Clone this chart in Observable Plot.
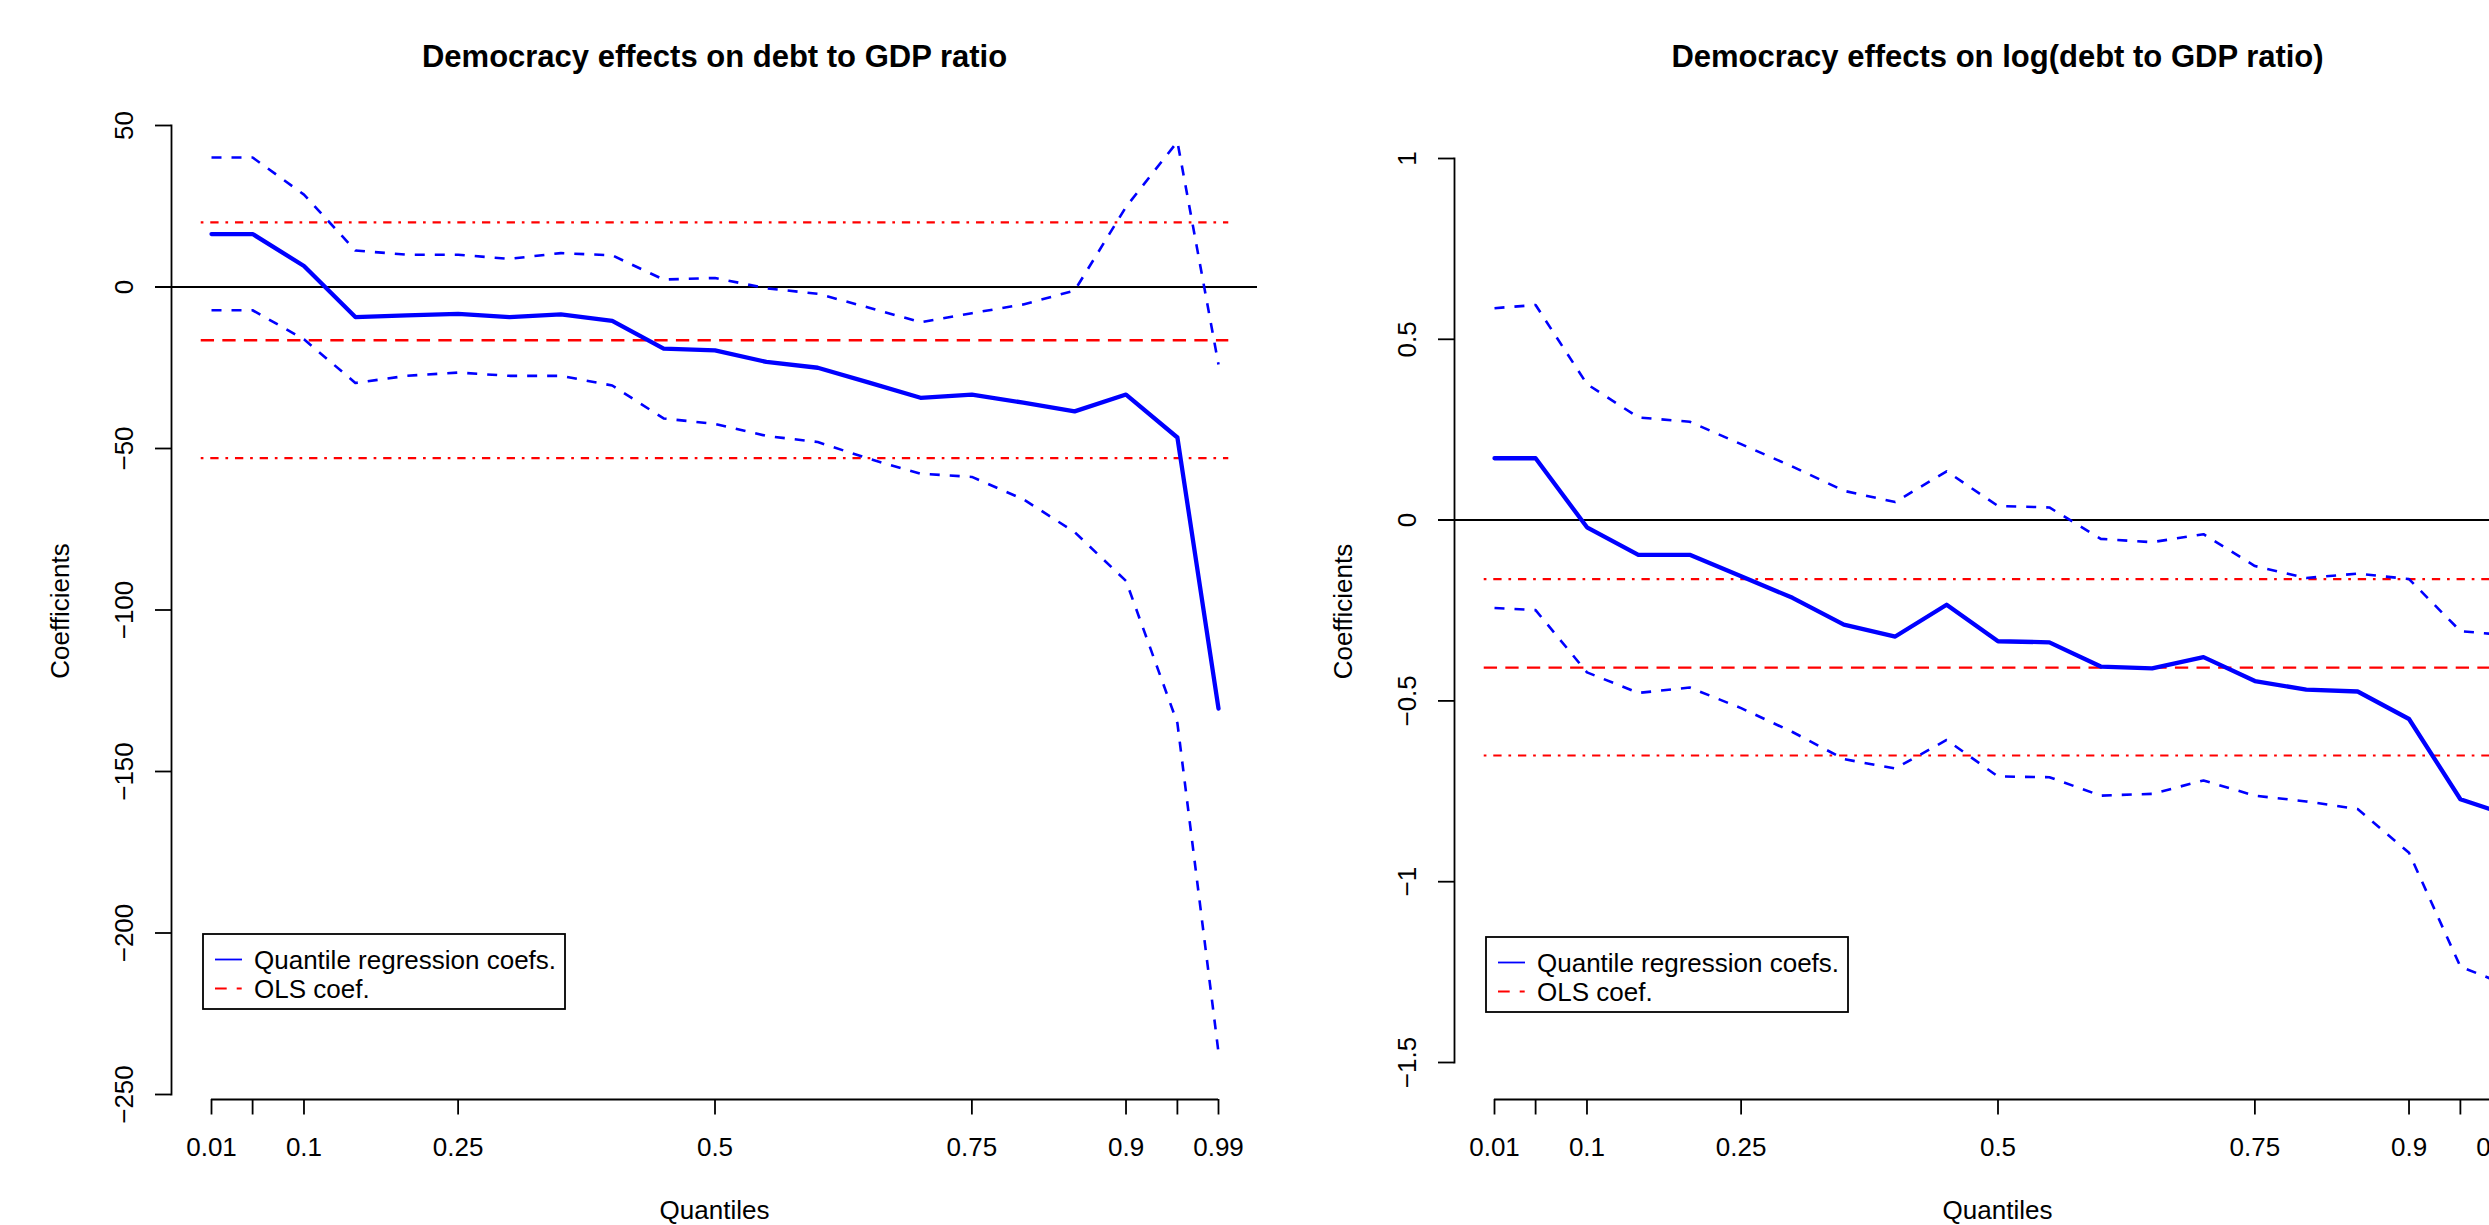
<!DOCTYPE html>
<html>
<head>
<meta charset="utf-8">
<script src="https://cdn.jsdelivr.net/npm/d3@7"></script>
<script src="https://cdn.jsdelivr.net/npm/@observablehq/plot@0.6"></script>
<style>
  html, body { margin: 0; padding: 0; background: #fff; }
  #wrap { position: relative; width: 2489px; height: 1225px; overflow: hidden; background: #fff; }
  .panel { position: absolute; top: 0; width: 1282.5px; height: 1225px; }
  .panel svg { max-width: none !important; display: block; }
</style>
</head>
<body>
<div id="wrap"></div>
<script>
// ---------- data ----------
const quantiles = [0.01, 0.05, 0.1, 0.15, 0.2, 0.25, 0.3, 0.35, 0.4, 0.45, 0.5,
                   0.55, 0.6, 0.65, 0.7, 0.75, 0.8, 0.85, 0.9, 0.95, 0.99];

// Left panel: debt to GDP ratio
const coefDebt  = [16.4, 16.4, 6.5, -9.3, -8.8, -8.3, -9.3, -8.5, -10.5, -19.1, -19.6,
                   -23.2, -25.0, -29.6, -34.3, -33.3, -35.8, -38.5, -33.3, -46.6, -130.5];
const upperDebt = [40.1, 40.1, 28.6, 11.3, 10.0, 10.0, 8.7, 10.5, 9.8, 2.3, 2.8,
                   -0.4, -2.1, -6.4, -10.9, -8.1, -5.4, -1.1, 24.8, 45.0, -24.0];
const lowerDebt = [-7.2, -7.2, -16.2, -29.7, -27.5, -26.5, -27.5, -27.5, -30.5, -40.7, -42.4,
                   -46.1, -48.0, -53.2, -57.8, -58.8, -65.7, -75.9, -91.0, -135.0, -237.0];
const olsDebtEst  = [-16.5];
const olsDebtBand = [20.0, -53.0];

// Right panel: log(debt to GDP ratio)
const coefLog  = [0.171, 0.171, -0.020, -0.096, -0.096, -0.155, -0.215, -0.289, -0.322, -0.234, -0.335,
                  -0.338, -0.405, -0.410, -0.379, -0.445, -0.469, -0.474, -0.550, -0.772, -0.810];
const upperLog = [0.586, 0.595, 0.376, 0.284, 0.272, 0.210, 0.148, 0.081, 0.050, 0.135, 0.039,
                  0.035, -0.052, -0.061, -0.039, -0.127, -0.160, -0.148, -0.163, -0.307, -0.317];
const lowerLog = [-0.243, -0.249, -0.421, -0.478, -0.463, -0.520, -0.586, -0.661, -0.687, -0.608, -0.709,
                  -0.711, -0.762, -0.757, -0.720, -0.762, -0.778, -0.799, -0.920, -1.235, -1.280];
const olsLogEst  = [-0.408];
const olsLogBand = [-0.163, -0.651];

const olsSpan = [0, 1];

// axes
const xTicks      = [0.01, 0.05, 0.1, 0.25, 0.5, 0.75, 0.9, 0.95, 0.99];
const xTickLabels = ["0.01", "", "0.1", "0.25", "0.5", "0.75", "0.9", "", "0.99"];
const yTicksDebt  = [50, 0, -50, -100, -150, -200, -250];
const yLabelsDebt = ["50", "0", "\u221250", "\u2212100", "\u2212150", "\u2212200", "\u2212250"];
const yTicksLog   = [1, 0.5, 0, -0.5, -1, -1.5];
const yLabelsLog  = ["1", "0.5", "0", "\u22120.5", "\u22121", "\u22121.5"];

const legendItems = ["Quantile regression coefs.", "OLS coef."];

// ---------- drawing ----------
const FONT = "'Liberation Sans', Arial, Helvetica, sans-serif";
const W = 1282.5, H = 1225;

function makePanel(cfg) {
  const rows = quantiles.map((q, i) => ({q, coef: cfg.coef[i], upper: cfg.upper[i], lower: cfg.lower[i]}));
  const chart = Plot.plot({
    width: W, height: H,
    marginLeft: 171, marginRight: 25.5,
    marginTop: cfg.marginTop, marginBottom: cfg.marginBottom,
    style: {fontFamily: FONT, fontSize: "26px", background: "white", color: "black", overflow: "visible"},
    x: {domain: [0.01, 0.99], range: [211, 1218]},
    y: {domain: [cfg.yTicks.at(-1), cfg.yTicks[0]]},
    marks: [
      // y axis
      Plot.frame({anchor: "left", stroke: "black", strokeWidth: 1.8}),
      Plot.axisY({ticks: cfg.yTicks, tickSize: 16, tickFormat: () => "", label: null, stroke: "black", strokeWidth: 1.8}),
      Plot.text(cfg.yTicks, {y: d => d, text: (d, i) => cfg.yLabels[i], frameAnchor: "left", dx: -47,
                             rotate: -90, textAnchor: "middle", lineAnchor: "middle", fontSize: 26, fill: "black"}),
      // x axis
      Plot.ruleY([cfg.yTicks.at(-1)], {x1: xTicks[0], x2: xTicks.at(-1), dy: cfg.axisDy, stroke: "black", strokeWidth: 1.8}),
      Plot.axisX({ticks: xTicks, tickSize: 15.5, dy: cfg.axisDy, tickFormat: () => "", label: null, stroke: "black", strokeWidth: 1.8}),
      Plot.text(xTicks, {x: d => d, text: (d, i) => xTickLabels[i], frameAnchor: "bottom", dy: cfg.labelDy,
                         lineAnchor: "middle", textAnchor: "middle", fontSize: 26, fill: "black"}),
      // zero line
      Plot.ruleY([0], {stroke: "black", strokeWidth: 2, insetLeft: -16}),
      // OLS
      Plot.ruleY(cfg.olsBand, {x1: olsSpan[0], x2: olsSpan[1], stroke: "#ff0000", strokeWidth: 2.2,
                               strokeDasharray: "2.7,6.85,8.3,6.85", strokeLinecap: "butt"}),
      Plot.ruleY(cfg.olsEst, {x1: olsSpan[0], x2: olsSpan[1], stroke: "#ff0000", strokeWidth: 2.4,
                              strokeDasharray: "13.3,8.3", strokeLinecap: "butt"}),
      // quantile regression
      Plot.line(rows, {x: "q", y: "upper", stroke: "#0000ff", strokeWidth: 2.6, strokeDasharray: "10,10", strokeLinecap: "butt"}),
      Plot.line(rows, {x: "q", y: "lower", stroke: "#0000ff", strokeWidth: 2.6, strokeDasharray: "10,10", strokeLinecap: "butt"}),
      Plot.line(rows, {x: "q", y: "coef", stroke: "#0000ff", strokeWidth: 4.3, strokeLinejoin: "round", strokeLinecap: "round"}),
      // titles
      Plot.text([cfg.title], {text: d => d, frameAnchor: "top", dy: 57 - cfg.marginTop, lineAnchor: "middle",
                              fontWeight: "bold", fontSize: 31, fill: "black"}),
      Plot.text(["Quantiles"], {text: d => d, frameAnchor: "bottom", dy: 1210 - (H - cfg.marginBottom),
                                lineAnchor: "middle", fontSize: 26, fill: "black"}),
      Plot.text(["Coefficients"], {text: d => d, frameAnchor: "left", dx: -111, dy: 1, rotate: -90,
                                   lineAnchor: "middle", textAnchor: "middle", fontSize: 26, fill: "black"})
    ]
  });

  // legend box (bottom-left of plot region)
  const svg = d3.select(chart);
  const g = svg.append("g").attr("transform", `translate(203,${cfg.legendTop})`);
  g.append("rect").attr("width", 362).attr("height", 75)
    .attr("fill", "white").attr("stroke", "black").attr("stroke-width", 1.8);
  const rowY = [25.5, 54.5];
  g.append("line").attr("x1", 12).attr("x2", 39).attr("y1", rowY[0]).attr("y2", rowY[0])
    .attr("stroke", "#0000ff").attr("stroke-width", 1.8);
  g.append("line").attr("x1", 12).attr("x2", 39).attr("y1", rowY[1]).attr("y2", rowY[1])
    .attr("stroke", "#ff0000").attr("stroke-width", 1.8).attr("stroke-dasharray", "11.7,10,5,10");
  legendItems.forEach((t, i) => {
    g.append("text").attr("x", 51).attr("y", rowY[i]).attr("dy", "0.35em")
      .attr("text-anchor", "start")
      .attr("font-family", FONT).attr("font-size", 26).attr("fill", "black").text(t);
  });
  return chart;
}

const wrap = document.getElementById("wrap");
const panels = [
  {title: "Democracy effects on debt to GDP ratio", coef: coefDebt, upper: upperDebt, lower: lowerDebt,
   olsEst: olsDebtEst, olsBand: olsDebtBand, yTicks: yTicksDebt, yLabels: yLabelsDebt,
   marginTop: 125, marginBottom: 131, axisDy: 5, labelDy: 53, legendTop: 934},
  {title: "Democracy effects on log(debt to GDP ratio)", coef: coefLog, upper: upperLog, lower: lowerLog,
   olsEst: olsLogEst, olsBand: olsLogBand, yTicks: yTicksLog, yLabels: yLabelsLog,
   marginTop: 158, marginBottom: 163, axisDy: 37, labelDy: 85, legendTop: 937}
];
panels.forEach((cfg, i) => {
  const div = document.createElement("div");
  div.className = "panel";
  div.style.left = (i * W) + "px";
  div.appendChild(makePanel(cfg));
  wrap.appendChild(div);
});
</script>
</body>
</html>
